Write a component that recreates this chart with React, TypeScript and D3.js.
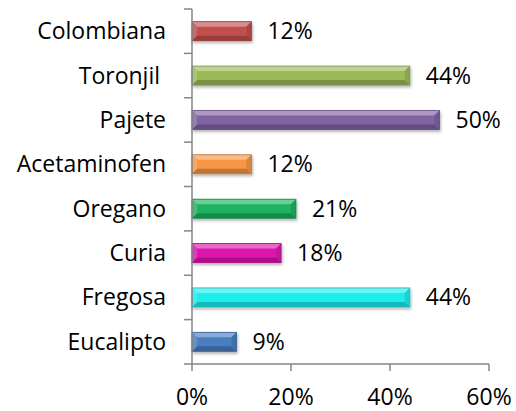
import React from "react";
import * as d3 from "d3";

const categories = ["Colombiana", "Toronjil ", "Pajete", "Acetaminofen", "Oregano", "Curia", "Fregosa", "Eucalipto"];
const values = [12, 44, 50, 12, 21, 18, 44, 9];
const colors = ["#C0504D", "#9BBB59", "#8064A2", "#F79646", "#1DB25F", "#DD16AE", "#1EEDED", "#4A7EC0"];
const xTicks = [0, 20, 40, 60];

const W = 516, H = 411;
const left = 192, right = 489, top = 9, bottom = 364;
const FONT = "'Open Sans', sans-serif";
const FS = 23;

export default function App() {
  const x = d3.scaleLinear().domain([0, 60]).range([left, right]);
  const band = (bottom - top) / categories.length;
  const bh = 19;
  return (
    <svg width={W} height={H} style={{ position: "absolute", left: 0, top: 0, background: "#fff" }}>
      <defs>
        <filter id="sh" x="-5%" y="-30%" width="115%" height="180%">
          <feGaussianBlur in="SourceAlpha" stdDeviation="1.5" />
          <feOffset dx="1" dy="2" result="b" />
          <feComponentTransfer><feFuncA type="linear" slope="0.3" /></feComponentTransfer>
          <feMerge><feMergeNode /><feMergeNode in="SourceGraphic" /></feMerge>
        </filter>
      </defs>
      {categories.map((c, i) => {
        const cy = top + band * i + band / 2;
        const y0 = cy - bh / 2;
        const x0 = x(0);
        const x1 = x(values[i]);
        const w = x1 - x0;
        const b = Math.min(5, w / 2);
        const light = d3.interpolateRgb(colors[i], "#fff")(0.35);
        const dark = d3.color(colors[i])!.darker(0.7).formatHex();
        const mid = d3.color(colors[i])!.formatHex();
        return (
          <g key={c} filter="url(#sh)">
            <rect x={x0} y={y0} width={w} height={bh} fill={mid} />
            <polygon points={`${x0},${y0} ${x1},${y0} ${x1 - b},${y0 + b} ${x0 + b},${y0 + b}`} fill={light} />
            <polygon points={`${x0},${y0 + bh} ${x1},${y0 + bh} ${x1 - b},${y0 + bh - b} ${x0 + b},${y0 + bh - b}`} fill={dark} />
            <polygon points={`${x1},${y0} ${x1},${y0 + bh} ${x1 - b},${y0 + bh - b} ${x1 - b},${y0 + b}`} fill={d3.color(colors[i])!.darker(0.35).formatHex()} />
            <polygon points={`${x0},${y0} ${x0},${y0 + bh} ${x0 + b},${y0 + bh - b} ${x0 + b},${y0 + b}`} fill={d3.interpolateRgb(colors[i], "#fff")(0.15)} />
            <rect x={x0} y={y0} width={w} height={bh} fill="none" stroke={dark} strokeWidth={0.8} />
          </g>
        );
      })}
      {categories.map((c, i) => {
        const cy = top + band * i + band / 2;
        return (
          <g key={"l" + c} fontFamily={FONT} fontSize={FS} fill="#000">
            <text x={166} y={cy + 8} textAnchor="end" style={{ whiteSpace: "pre" }}>{c}</text>
            <text x={x(values[i]) + 16} y={cy + 8}>{values[i] + "%"}</text>
          </g>
        );
      })}
      <g stroke="#868686" strokeWidth={1.5} fill="none">
        <line x1={left} x2={left} y1={top} y2={bottom} />
        <line x1={left} x2={right} y1={bottom} y2={bottom} />
        {d3.range(categories.length + 1).map(k => (
          <line key={"t" + k} x1={left - 8} x2={left} y1={top + band * k} y2={top + band * k} />
        ))}
        {xTicks.map(t => (
          <line key={"x" + t} x1={x(t)} x2={x(t)} y1={bottom} y2={bottom + 7} />
        ))}
      </g>
      {xTicks.map(t => (
        <text key={"xl" + t} x={x(t)} y={405} textAnchor="middle" fontFamily={FONT} fontSize={FS}>{t + "%"}</text>
      ))}
    </svg>
  );
}
